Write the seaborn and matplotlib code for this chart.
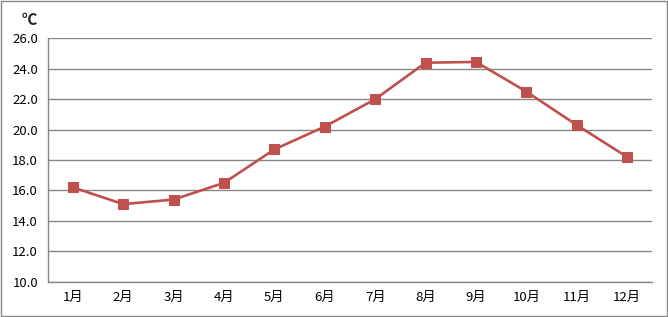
import matplotlib
matplotlib.use("Agg")
import matplotlib.pyplot as plt
import seaborn as sns
import pandas as pd
from matplotlib.patches import Rectangle
from matplotlib.ticker import MultipleLocator, FixedLocator

months = ["1月", "2月", "3月", "4月", "5月", "6月", "7月", "8月", "9月", "10月", "11月", "12月"]
temps = [16.2, 15.1, 15.4, 16.5, 18.7, 20.2, 22.0, 24.4, 24.45, 22.5, 20.3, 18.2]
unit_label = "℃"

sns.set_style("white")
plt.rcParams["font.family"] = ["Noto Sans CJK JP", "DejaVu Sans"]

df = pd.DataFrame({"month": months, "temp": temps, "x": range(len(months))})

fig = plt.figure(figsize=(6.68, 3.17), dpi=100)
ax = fig.add_axes([0.0714, 0.1114, 0.9051, 0.7676])

ax.set_axisbelow(True)
sns.lineplot(data=df, x="x", y="temp", ax=ax, color="#C0504D", linewidth=1.9,
             marker="s", markersize=7, markeredgecolor="#C0504D", markerfacecolor="#C0504D")

ax.set_xlim(-0.5, len(months) - 0.5)
ax.set_ylim(10, 26)
ax.yaxis.set_major_locator(MultipleLocator(2))
ax.set_yticklabels([f"{v:.1f}" for v in ax.get_yticks()])
ax.grid(axis="y", color="#878787", linewidth=1.0)

ax.xaxis.set_major_locator(FixedLocator(list(range(len(months)))))
ax.set_xticklabels(months)
ax.xaxis.set_minor_locator(FixedLocator([i - 0.5 for i in range(len(months) + 1)]))
ax.tick_params(axis="x", which="major", length=0, pad=7, labelsize=9.5, colors="black")
ax.tick_params(axis="x", which="minor", length=4, width=1, color="#878787", direction="out")
ax.tick_params(axis="y", which="major", length=4, width=1, color="#878787", direction="out",
               labelsize=9.5, labelcolor="black", pad=3)

for s in ["top", "right"]:
    ax.spines[s].set_visible(False)
for s in ["left", "bottom"]:
    ax.spines[s].set_color("#878787")
    ax.spines[s].set_linewidth(1.0)

ax.set_xlabel("")
ax.set_ylabel("")
fig.text(29 / 668, 1 - 20 / 317, unit_label, fontsize=11, fontweight="bold", ha="center", va="center")

fig.patches.append(Rectangle((0.0015, 0.003), 0.997, 0.994, transform=fig.transFigure,
                             fill=False, edgecolor="#878787", linewidth=1.0))

fig.savefig("out.png", dpi=100)
